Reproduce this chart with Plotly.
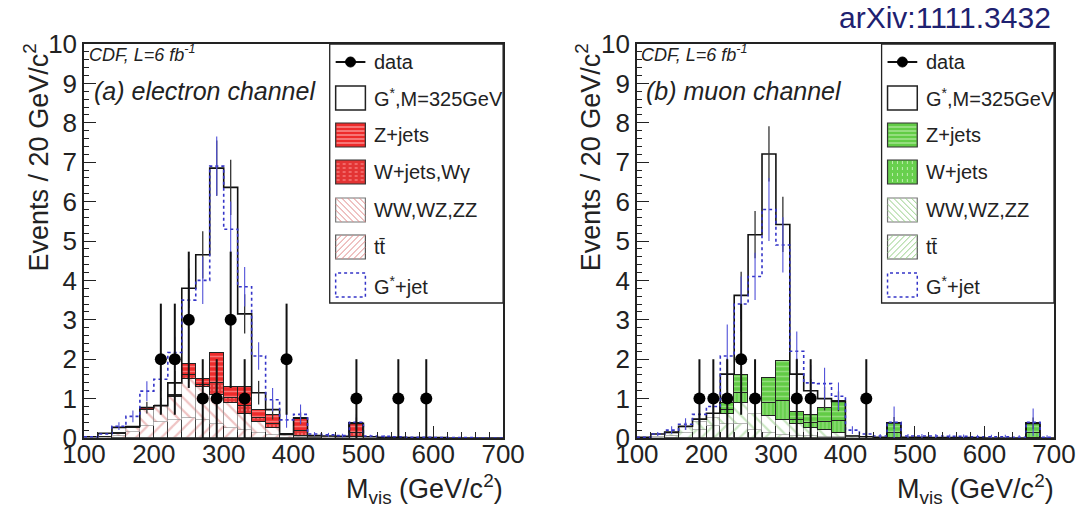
import plotly.graph_objects as go

# ---------------- binning (GeV/c^2) ----------------
bin_edges = list(range(100, 701, 20))

# ---------------- (a) electron channel : events / 20 GeV ----------------
ele_ttbar  = [0, 0, 0.05, 0.15, 0.30, 0.40, 0.45, 0.50, 0.45, 0.35, 0.25, 0.20, 0.12, 0.08, 0.04,
              0.03, 0.02, 0.01, 0.01, 0.01, 0, 0, 0, 0, 0, 0, 0, 0, 0, 0]
ele_diboson = [0, 0.02, 0.05, 0.10, 0.40, 0.45, 0.60, 1.00, 0.85, 0.75, 0.65, 0.40, 0.28, 0.17, 0.04,
               0.03, 0.02, 0.02, 0.01, 0.01, 0, 0, 0, 0, 0, 0, 0, 0, 0, 0]
ele_wjets  = [0, 0, 0, 0.01, 0.02, 0, 0.02, 0.10, 0.05, 0.30, 0.12, 0.20, 0.10, 0.10, 0.01,
              0.12, 0, 0, 0, 0.10, 0, 0, 0, 0, 0, 0, 0, 0, 0, 0]
ele_zjets  = [0, 0.01, 0.02, 0.01, 0.03, 0, 0.03, 0.27, 0.14, 0.77, 0.28, 0.50, 0.22, 0.24, 0.01,
              0.32, 0, 0, 0, 0.25, 0, 0, 0, 0, 0, 0, 0, 0, 0, 0]
ele_gstar  = [0.03, 0.12, 0.27, 0.29, 0.77, 0.82, 1.40, 3.80, 4.65, 6.85, 6.36, 3.15, 1.15, 0.72, 0.10,
              0.50, 0.06, 0.05, 0.04, 0.37, 0.03, 0.02, 0.02, 0.01, 0.01, 0.01, 0, 0, 0, 0]
ele_gstar_err = [0, 0, 0, 0, 0.15, 0.20, 0.30, 0.50, 0.60, 0.70, 0.70, 0.50, 0.30, 0.25, 0,
                 0.15, 0, 0, 0, 0.15, 0, 0, 0, 0, 0, 0, 0, 0, 0, 0]
ele_gjet   = [0.03, 0.10, 0.30, 0.55, 1.19, 1.49, 2.17, 3.50, 4.00, 6.90, 5.30, 3.84, 2.08, 0.97, 0.46,
              0.60, 0.10, 0.08, 0.06, 0.40, 0.05, 0.04, 0.03, 0.02, 0.02, 0.01, 0.01, 0.01, 0, 0]
ele_gjet_err = [0, 0, 0.10, 0.15, 0.25, 0.30, 0.40, 0.50, 0.60, 0.75, 0.70, 0.50, 0.35, 0.30, 0.20,
                0.25, 0.05, 0.05, 0.05, 0.20, 0.03, 0.03, 0, 0, 0, 0, 0, 0, 0, 0]
ele_data_x   = [210, 230, 250, 270, 290, 310, 330, 390, 490, 550, 590]
ele_data_y   = [2, 2, 3, 1, 1, 3, 1, 2, 1, 1, 1]
ele_data_err = [1.41, 1.41, 1.73, 1.0, 1.0, 1.73, 1.0, 1.41, 1.0, 1.0, 1.0]

# ---------------- (b) muon channel : events / 20 GeV ----------------
muo_ttbar  = [0, 0, 0.05, 0.12, 0.20, 0.30, 0.35, 0.35, 0.20, 0.12, 0.08, 0.06, 0.05, 0.03, 0.02,
              0.01, 0, 0, 0, 0, 0, 0, 0, 0, 0, 0, 0, 0, 0, 0]
muo_diboson = [0, 0.02, 0.05, 0.13, 0.20, 0.20, 0.25, 0.55, 0.40, 0.43, 0.37, 0.29, 0.20, 0.17, 0.10,
               0.04, 0, 0, 0, 0, 0, 0, 0, 0, 0, 0, 0, 0, 0, 0]
muo_wjets  = [0, 0, 0, 0, 0, 0, 0.10, 0.25, 0, 0.35, 0.50, 0.10, 0.12, 0.20, 0.30,
              0, 0, 0, 0.13, 0, 0, 0, 0, 0, 0, 0, 0, 0, 0.12, 0]
muo_zjets  = [0, 0, 0, 0, 0, 0, 0.20, 0.45, 0, 0.63, 1.01, 0.20, 0.22, 0.36, 0.51,
              0, 0, 0, 0.25, 0, 0, 0, 0, 0, 0, 0, 0, 0, 0.25, 0]
muo_gstar  = [0.02, 0.10, 0.15, 0.30, 0.48, 0.63, 1.62, 3.62, 5.16, 7.21, 5.42, 1.62, 1.20, 1.00, 0.93,
              0.05, 0.03, 0.02, 0.38, 0.02, 0.02, 0.01, 0.01, 0.01, 0.01, 0, 0, 0, 0.37, 0]
muo_gstar_err = [0, 0, 0, 0.10, 0.15, 0.20, 0.40, 0.60, 0.60, 0.70, 0.70, 0.40, 0.30, 0.30, 0.25,
                 0, 0, 0, 0.15, 0, 0, 0, 0, 0, 0, 0, 0, 0, 0.15, 0]
muo_gjet   = [0.02, 0.10, 0.20, 0.35, 0.60, 0.80, 2.08, 3.40, 4.10, 5.80, 4.90, 2.20, 1.40, 1.38, 1.06,
              0.20, 0.10, 0.05, 0.40, 0.05, 0.05, 0.05, 0.04, 0.04, 0.03, 0.03, 0.03, 0.02, 0.40, 0.02]
muo_gjet_err = [0, 0.05, 0.10, 0.15, 0.25, 0.30, 0.80, 0.70, 0.60, 0.80, 0.70, 0.50, 0.45, 0.40, 0.35,
                0.10, 0.05, 0.05, 0.40, 0.05, 0.05, 0.05, 0.05, 0.05, 0.05, 0.05, 0.05, 0.05, 0.35, 0.05]
muo_data_x   = [190, 210, 230, 250, 270, 330, 350, 430]
muo_data_y   = [1, 1, 1, 2, 1, 1, 1, 1]
muo_data_err = [1.0, 1.0, 1.0, 1.41, 1.0, 1.0, 1.0, 1.0]

ele_labels = ["data", "G<sup>*</sup>,M=325GeV", "Z+jets", "W+jets,Wγ", "WW,WZ,ZZ", "tt\u0304", "G<sup>*</sup>+jet"]
muo_labels = ["data", "G<sup>*</sup>,M=325GeV", "Z+jets", "W+jets", "WW,WZ,ZZ", "tt\u0304", "G<sup>*</sup>+jet"]
x_ticks = [100, 200, 300, 400, 500, 600, 700]

# ---------------- geometry helpers (pixels -> paper) ----------------
W, H = 1088, 508
ML, MR, MT, MB = 84, 25, 44, 70
PW, PH = W - ML - MR, H - MT - MB


def px2x(px):
    return (px - ML) / PW


def py2y(py):
    return 1 - (py - MT) / PH


centers = [(a + b) / 2 for a, b in zip(bin_edges[:-1], bin_edges[1:])]
bw = bin_edges[1] - bin_edges[0]


def nz(v):
    return [None if a == 0 else a for a in v]


fig = go.Figure()

BLUE = "#3434c8"
panels = [
    dict(xa="x", ya="y", dx=0, right=507,
         tt=ele_ttbar, ww=ele_diboson, wj=ele_wjets, zj=ele_zjets,
         gs=ele_gstar, gse=ele_gstar_err, gj=ele_gjet, gje=ele_gjet_err,
         dxs=ele_data_x, dys=ele_data_y, des=ele_data_err, labels=ele_labels,
         hatch="#e08888", zbg="#ee2b2b", zfg="#ffc2c2", wbg="#e33434", wfg="#ff9a9a",
         wshape=".", title="<i>(a) electron channel</i>"),
    dict(xa="x2", ya="y2", dx=557, right=1063,
         tt=muo_ttbar, ww=muo_diboson, wj=muo_wjets, zj=muo_zjets,
         gs=muo_gstar, gse=muo_gstar_err, gj=muo_gjet, gje=muo_gjet_err,
         dxs=muo_data_x, dys=muo_data_y, des=muo_data_err, labels=muo_labels,
         hatch="#95cf86", zbg="#62cc46", zfg="#c6f0b6", wbg="#68d04e", wfg="#c0eeb0",
         wshape="|", title="<i>(b) muon channel</i>"),
]

for p in panels:
    common = dict(x=centers, width=bw, xaxis=p["xa"], yaxis=p["ya"], showlegend=False, hoverinfo="skip")
    # stacked backgrounds
    fig.add_trace(go.Bar(y=nz(p["tt"]), **common,
                         marker=dict(color="white", line=dict(color="#444", width=0.9),
                                     pattern=dict(shape="/", fgcolor=p["hatch"], bgcolor="white", size=9, solidity=0.25))))
    fig.add_trace(go.Bar(y=nz(p["ww"]), **common,
                         marker=dict(color="white", line=dict(color="#888", width=0.6),
                                     pattern=dict(shape="\\", fgcolor=p["hatch"], bgcolor="white", size=9, solidity=0.25))))
    fig.add_trace(go.Bar(y=nz(p["wj"]), **common,
                         marker=dict(color=p["wbg"], line=dict(color="#222", width=1.0),
                                     pattern=dict(shape=p["wshape"], fgcolor=p["wfg"], bgcolor=p["wbg"], size=4, solidity=0.3))))
    fig.add_trace(go.Bar(y=nz(p["zj"]), **common,
                         marker=dict(color=p["zbg"], line=dict(color="#222", width=1.0),
                                     pattern=dict(shape="-", fgcolor=p["zfg"], bgcolor=p["zbg"], size=5, solidity=0.3))))
    # G* signal (stacked total outline)
    fig.add_trace(go.Scatter(x=bin_edges, y=p["gs"] + [p["gs"][-1]], mode="lines", xaxis=p["xa"], yaxis=p["ya"],
                             line=dict(shape="hv", color="#111", width=1.6), showlegend=False, hoverinfo="skip"))
    fig.add_trace(go.Scatter(x=centers, y=p["gs"], mode="markers", xaxis=p["xa"], yaxis=p["ya"],
                             marker=dict(size=1, color="rgba(0,0,0,0)"),
                             error_y=dict(type="data", array=p["gse"], width=0, thickness=1.3, color="#333"),
                             showlegend=False, hoverinfo="skip"))
    # G*+jet
    fig.add_trace(go.Scatter(x=bin_edges, y=p["gj"] + [p["gj"][-1]], mode="lines", xaxis=p["xa"], yaxis=p["ya"],
                             line=dict(shape="hv", color=BLUE, width=1.6, dash="dot"), showlegend=False, hoverinfo="skip"))
    fig.add_trace(go.Scatter(x=centers, y=p["gj"], mode="markers", xaxis=p["xa"], yaxis=p["ya"],
                             marker=dict(size=1, color="rgba(0,0,0,0)"),
                             error_y=dict(type="data", array=p["gje"], width=0, thickness=1.1, color="#5050d8"),
                             showlegend=False, hoverinfo="skip"))
    # data
    fig.add_trace(go.Scatter(x=p["dxs"], y=p["dys"], mode="markers", xaxis=p["xa"], yaxis=p["ya"],
                             marker=dict(size=12, color="black"),
                             error_y=dict(type="data", array=p["des"], width=0, thickness=2.0, color="#111"),
                             showlegend=False, hoverinfo="skip"))

shapes = []
annotations = []


def rect(x0, y0, x1, y1, **kw):
    shapes.append(dict(type="rect", xref="paper", yref="paper", x0=px2x(x0), x1=px2x(x1),
                       y0=py2y(y1), y1=py2y(y0), **kw))


def seg(x0, y0, x1, y1, color, width=1, dash="solid"):
    shapes.append(dict(type="line", xref="paper", yref="paper", x0=px2x(x0), x1=px2x(x1),
                       y0=py2y(y0), y1=py2y(y1), line=dict(color=color, width=width, dash=dash)))


def hatch(x0, y0, x1, y1, kind, color, step=6, width=1):
    c = x0 + y0 - (y1 - y0) if kind == "/" else x0 - y1
    cmax = x1 + y1 if kind == "/" else x1 - y0
    while c <= cmax:
        if kind == "/":  # x + y = c
            xs, xe = max(x0, c - y1), min(x1, c - y0)
            if xs < xe:
                seg(xs, c - xs, xe, c - xe, color, width)
        else:  # x - y = c
            xs, xe = max(x0, y0 + c), min(x1, y1 + c)
            if xs < xe:
                seg(xs, xs - c, xe, xe - c, color, width)
        c += step


FONT = "Liberation Sans, Arial, Helvetica, sans-serif"
entry_y = [62, 98, 135, 172, 210, 247, 285]

for p in panels:
    dx = p["dx"]
    # legend box
    rect(332 + dx, 44, p["right"], 303, line=dict(color="#222", width=1.3), fillcolor="white")
    bx0, bx1 = 338 + dx, 368 + dx
    for i, (cy, lab) in enumerate(zip(entry_y, p["labels"])):
        y0, y1 = cy - 12, cy + 12
        if i == 0:
            seg(bx0, cy, bx1, cy, "#111", 2)
            shapes.append(dict(type="circle", xref="paper", yref="paper",
                               x0=px2x(bx0 + 10), x1=px2x(bx0 + 20), y0=py2y(cy + 5), y1=py2y(cy - 5),
                               fillcolor="black", line=dict(color="black", width=1)))
        elif i == 1:
            rect(bx0, y0, bx1, y1, line=dict(color="#222", width=1.5), fillcolor="white")
        elif i == 2:
            rect(bx0, y0, bx1, y1, line=dict(color="#333", width=1.2), fillcolor=p["zbg"])
            for k in range(4, 24, 4):
                seg(bx0 + 1, y0 + k, bx1 - 1, y0 + k, p["zfg"], 1)
        elif i == 3:
            rect(bx0, y0, bx1, y1, line=dict(color="#333", width=1.2), fillcolor=p["wbg"])
            if p["wshape"] == "|":
                for k in range(5, 30, 5):
                    seg(bx0 + k, y0 + 1, bx0 + k, y1 - 1, p["wfg"], 1, "dot")
            else:
                for k in range(4, 24, 4):
                    seg(bx0 + 1, y0 + k, bx1 - 1, y0 + k, p["wfg"], 1, "dot")
        elif i == 4:
            rect(bx0, y0, bx1, y1, line=dict(color="#777", width=1.2), fillcolor="white")
            hatch(bx0, y0, bx1, y1, "\\", p["hatch"], 6, 1)
        elif i == 5:
            rect(bx0, y0, bx1, y1, line=dict(color="#555", width=1.2), fillcolor="white")
            hatch(bx0, y0, bx1, y1, "/", p["hatch"], 6, 1)
        else:
            rect(bx0, y0, bx1, y1, line=dict(color=BLUE, width=1.5, dash="dot"), fillcolor="white")
        annotations.append(dict(xref="paper", yref="paper", x=px2x(375 + dx), y=py2y(cy), text=lab,
                                showarrow=False, xanchor="left", yanchor="middle",
                                font=dict(size=20, color="#222", family=FONT)))
    # in-plot texts
    annotations.append(dict(xref="paper", yref="paper", x=px2x(87 + dx), y=py2y(53),
                            text="<i>CDF, L=6 fb<sup>-1</sup></i>", showarrow=False, xanchor="left",
                            yanchor="middle", font=dict(size=18, color="#222", family=FONT)))
    annotations.append(dict(xref="paper", yref="paper", x=px2x(92 + dx), y=py2y(91),
                            text=p["title"], showarrow=False, xanchor="left",
                            yanchor="middle", font=dict(size=25, color="#222", family=FONT)))
    # axis titles
    annotations.append(dict(xref="paper", yref="paper", x=px2x(p["right"] + 2), y=py2y(489),
                            text="M<sub>vis</sub> (GeV/c<sup>2</sup>)", showarrow=False, xanchor="right",
                            yanchor="middle", font=dict(size=27, color="#222", family=FONT)))
    annotations.append(dict(xref="paper", yref="paper", x=px2x(36 + dx), y=py2y(157),
                            text="Events / 20 GeV/c<sup>2</sup>", showarrow=False, textangle=-90,
                            xanchor="center", yanchor="middle", font=dict(size=27, color="#222", family=FONT)))

annotations.append(dict(xref="paper", yref="paper", x=px2x(1062), y=py2y(18), text="arXiv:1111.3432",
                        showarrow=False, xanchor="right", yanchor="middle",
                        font=dict(size=30, color="#1e2170", family=FONT)))

xcommon = dict(range=[100, 700], tickvals=x_ticks, ticks="inside", ticklen=12, tickwidth=1.2, tickcolor="#222",
               minor=dict(dtick=20, ticklen=6, tickcolor="#222", ticks="inside"),
               showline=True, linecolor="#222", linewidth=1.5, mirror=True, showgrid=False, zeroline=False,
               ticklabelstandoff=-8,
               tickfont=dict(size=26, color="#222", family=FONT))
ycommon = dict(range=[0, 10], dtick=1, ticks="inside", ticklen=12, tickwidth=1.2, tickcolor="#222",
               minor=dict(dtick=0.2, ticklen=5, tickcolor="#222", ticks="inside"),
               showline=True, linecolor="#222", linewidth=1.5, mirror=True, showgrid=False, zeroline=False,
               tickfont=dict(size=26, color="#222", family=FONT))

fig.update_layout(
    width=W, height=H, margin=dict(l=ML, r=MR, t=MT, b=MB),
    paper_bgcolor="white", plot_bgcolor="white",
    barmode="stack", bargap=0, showlegend=False,
    font=dict(family=FONT, color="#222"),
    xaxis=dict(domain=[0, px2x(507)], anchor="y", **xcommon),
    yaxis=dict(domain=[0, 1], anchor="x", **ycommon),
    xaxis2=dict(domain=[px2x(642), 1], anchor="y2", **xcommon),
    yaxis2=dict(domain=[0, 1], anchor="x2", **ycommon),
    shapes=shapes, annotations=annotations,
)

fig.write_html("out.html")
